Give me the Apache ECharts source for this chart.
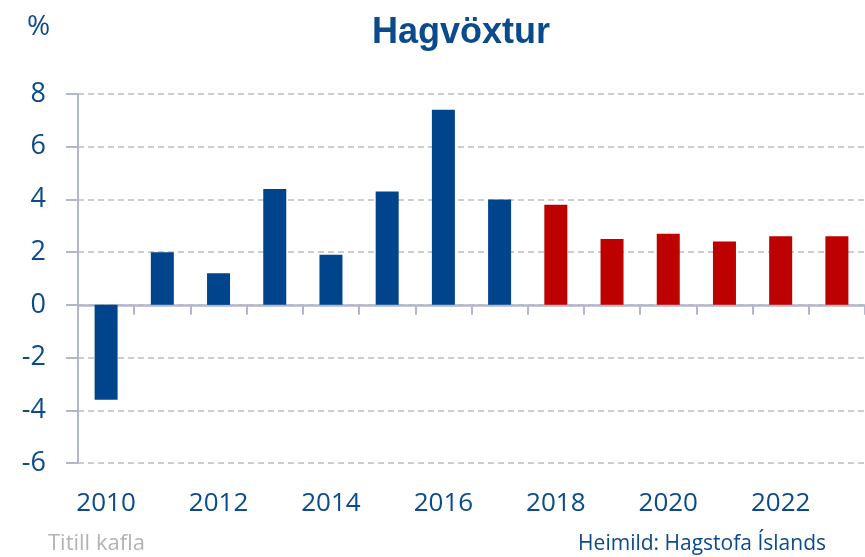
<!DOCTYPE html>
<html>
<head>
<meta charset="utf-8">
<script src="https://cdn.jsdelivr.net/npm/echarts@6/dist/echarts.min.js"></script>
<style>
html,body{margin:0;padding:0;background:#fff;}
#chart{width:865px;height:557px;}
</style>
</head>
<body>
<div id="chart"></div>
<script>
// Data
const years = ['2010','2011','2012','2013','2014','2015','2016','2017','2018','2019','2020','2021','2022','2023'];
const growth = [-3.6, 2.0, 1.2, 4.4, 1.9, 4.3, 7.4, 4.0, 3.8, 2.5, 2.7, 2.4, 2.6, 2.6];
const firstForecastYear = '2018';
const yTicks = { min: -6, max: 8, step: 2 };
const titleText = 'Hagvöxtur';
const unitText = '%';
const footerLeft = 'Titill kafla';
const footerRight = 'Heimild: Hagstofa Íslands';

const BLUE = '#00448c';
const RED = '#bd0000';
const TXT = '#0b4a8c';
const AXIS = '#b1b7cd';
const FONT = "'Open Sans', 'Noto Sans', sans-serif";

const chart = echarts.init(document.getElementById('chart'), null, { renderer: 'canvas' });
const forecastIdx = years.indexOf(firstForecastYear);

chart.setOption({
  animation: false,
  backgroundColor: '#ffffff',
  title: [
    { text: titleText, left: 456, top: 10, textAlign: 'center',
      textStyle: { fontFamily: "'Liberation Sans Narrow', 'Liberation Sans', sans-serif", fontWeight: 'bold', fontSize: 36, color: TXT } },
    { text: unitText, left: 22, top: 8,
      textStyle: { fontFamily: FONT, fontWeight: 'normal', fontSize: 28, color: TXT } },
    { text: footerLeft, left: 43, top: 528,
      textStyle: { fontFamily: FONT, fontWeight: 'normal', fontSize: 22, color: '#b3b3b3' } },
    { text: footerRight, right: 34, top: 529,
      textStyle: { fontFamily: FONT, fontWeight: 'normal', fontSize: 21, color: TXT } }
  ],
  grid: { left: 78, top: 94, right: -11, bottom: 94, containLabel: false },
  xAxis: [
    {
      type: 'category', data: years, boundaryGap: true,
      axisLine: { show: true, onZero: true, lineStyle: { color: AXIS, width: 2.5 } },
      axisTick: { show: true, length: 10, lineStyle: { color: AXIS, width: 2 } },
      axisLabel: { show: false },
      splitLine: { show: false }
    },
    {
      type: 'category', data: years, position: 'bottom', boundaryGap: true,
      axisLine: { show: false, onZero: false },
      axisTick: { show: false },
      axisLabel: { show: true, interval: 1, margin: 28, fontFamily: FONT, fontSize: 26, color: TXT },
      splitLine: { show: false }
    }
  ],
  yAxis: {
    type: 'value', min: yTicks.min, max: yTicks.max, interval: yTicks.step,
    axisLine: { show: true, lineStyle: { color: AXIS, width: 2 } },
    axisTick: { show: true, length: 12, lineStyle: { color: AXIS, width: 2 } },
    axisLabel: { margin: 32, fontFamily: FONT, fontSize: 27, color: TXT },
    splitLine: { show: true, lineStyle: { color: '#bdbdbd', width: 1.5, type: [6, 4] } }
  },
  series: [{
    type: 'bar', xAxisIndex: 0, data: growth, barWidth: 23,
    itemStyle: { color: (p) => (p.dataIndex >= forecastIdx ? RED : BLUE) }
  }]
});
</script>
</body>
</html>
